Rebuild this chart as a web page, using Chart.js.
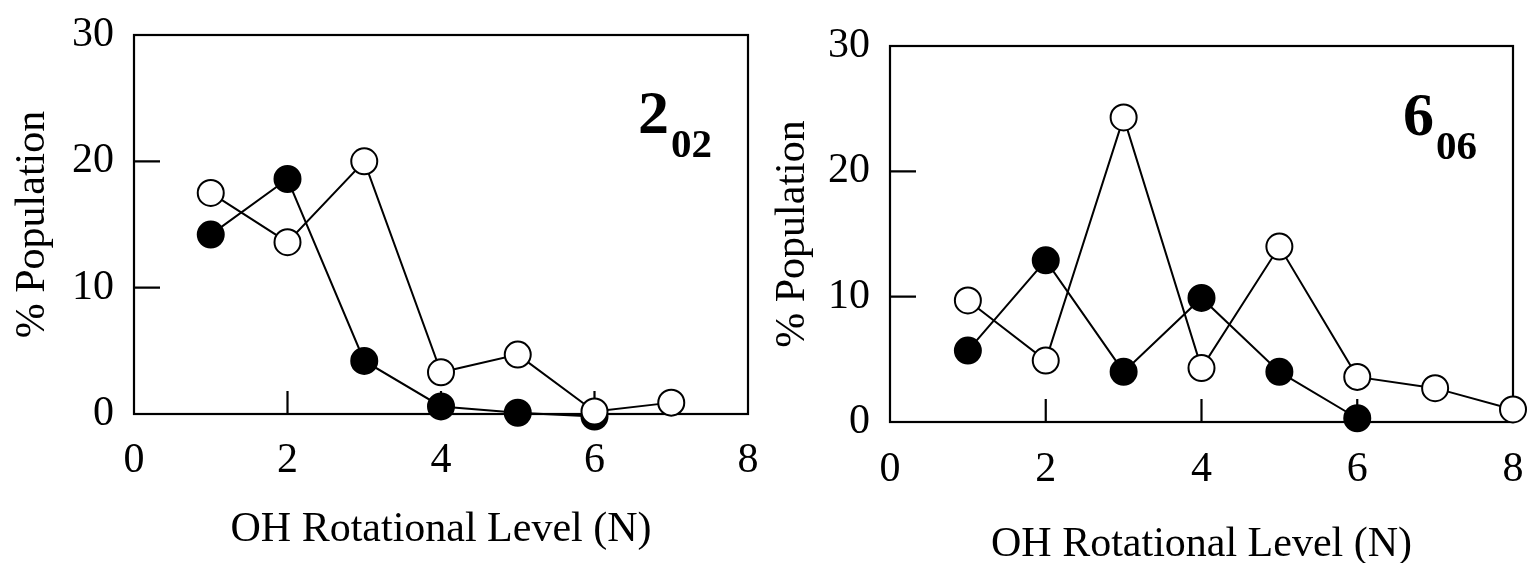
<!DOCTYPE html>
<html>
<head>
<meta charset="utf-8">
<script src="https://cdn.jsdelivr.net/npm/chart.js@4.4.1/dist/chart.umd.min.js"></script>
<style>
  body { margin: 0; background: #fff; }
  #wrap { position: relative; width: 1529px; height: 563px; }
  .panel { position: absolute; top: 0; height: 563px; }
</style>
</head>
<body>
<div id="wrap">
  <div class="panel" style="left:0;width:764px"><canvas id="left" width="764" height="563"></canvas></div>
  <div class="panel" style="left:764px;width:765px"><canvas id="right" width="765" height="563"></canvas></div>
</div>
<script>
// OH rotational level populations, 2_02 panel
const levels202 = [1, 2, 3, 4, 5, 6, 7];
const filled202 = [14.2, 18.6, 4.2, 0.6, 0.1, -0.2];
const open202 = [17.5, 13.6, 20.0, 3.3, 4.7, 0.2, 0.9];

// 6_06 panel
const levels606 = [1, 2, 3, 4, 5, 6, 7, 8];
const filled606 = [5.7, 12.9, 4.0, 9.9, 4.0, 0.3];
const open606 = [9.7, 4.9, 24.3, 4.3, 14.0, 3.6, 2.7, 1.0];

const xTicks = [0, 2, 4, 6, 8];
const yTicks = [0, 10, 20, 30];
const innerXTicks = [2, 4, 6];
const innerYTicks = [10, 20];

const SERIF = "'Liberation Serif', 'Times New Roman', serif";

function toPoints(levels, values) {
    return values.map((v, i) => ({ x: levels[i], y: v }));
}

// frame + inward tick marks, drawn under the markers
const frame = {
    id: 'frame',
    beforeDatasetsDraw(chart) {
        const { ctx, chartArea: a, scales } = chart;
        ctx.save();
        ctx.strokeStyle = '#000';
        ctx.lineWidth = 2.2;
        ctx.strokeRect(a.left, a.top, a.right - a.left, a.bottom - a.top);
        ctx.beginPath();
        innerYTicks.forEach(v => {
            const y = scales.y.getPixelForValue(v);
            ctx.moveTo(a.left, y);
            ctx.lineTo(a.left + 26, y);
        });
        innerXTicks.forEach(v => {
            const x = scales.x.getPixelForValue(v);
            ctx.moveTo(x, a.bottom);
            ctx.lineTo(x, a.bottom - 23);
        });
        ctx.stroke();
        ctx.restore();
    },
    afterDraw(chart) {
        const lab = chart.options.plugins.frame;
        const { ctx, chartArea: a } = chart;
        ctx.save();
        ctx.fillStyle = '#000';
        ctx.textBaseline = 'alphabetic';
        ctx.font = 'bold 62px ' + SERIF;
        const x = a.right - lab.dx;
        ctx.fillText(lab.main, x, lab.y);
        const w = ctx.measureText(lab.main).width;
        ctx.font = 'bold 41px ' + SERIF;
        ctx.fillText(lab.sub, x + w + 2, lab.y + 24);
        ctx.restore();
    }
};

function makeChart(id, p) {
    const ctx = document.getElementById(id).getContext('2d');
    return new Chart(ctx, {
        type: 'scatter',
        data: {
            datasets: [
                {
                    data: toPoints(p.levels, p.open),
                    showLine: true,
                    borderColor: '#000',
                    borderWidth: 2,
                    pointRadius: 13,
                    pointBorderWidth: 2,
                    pointBorderColor: '#000',
                    pointBackgroundColor: '#fff',
                    clip: false
                },
                {
                    data: toPoints(p.levels, p.filled),
                    showLine: true,
                    borderColor: '#000',
                    borderWidth: 2,
                    pointRadius: 13,
                    pointBorderWidth: 2,
                    pointBorderColor: '#000',
                    pointBackgroundColor: '#000',
                    clip: false
                }
            ]
        },
        options: {
            responsive: false,
            animation: false,
            events: [],
            layout: { padding: { top: p.top, right: 16, left: 0, bottom: 0 } },
            plugins: {
                legend: { display: false },
                tooltip: { enabled: false },
                frame: { main: p.main, sub: p.sub, dx: 110, y: p.labelY }
            },
            scales: {
                x: {
                    type: 'linear',
                    min: 0,
                    max: 8,
                    afterBuildTicks: s => { s.ticks = xTicks.map(v => ({ value: v })); },
                    afterFit: s => {
                        s.height = 563 - p.bottom;
                        s.paddingLeft = 0;
                        s.paddingRight = 0;
                    },
                    grid: { display: false, drawTicks: false },
                    border: { display: false },
                    ticks: {
                        color: '#000',
                        padding: p.xPad,
                        maxRotation: 0,
                        font: { family: SERIF, size: 42 }
                    },
                    title: {
                        display: true,
                        text: 'OH Rotational Level (N)',
                        color: '#000',
                        font: { family: SERIF, size: 42, lineHeight: p.titleLH },
                        padding: { top: 0, bottom: p.titlePad }
                    }
                },
                y: {
                    min: 0,
                    max: 30,
                    afterBuildTicks: s => { s.ticks = yTicks.map(v => ({ value: v })); },
                    afterFit: s => {
                        s.width = p.axisLeft;
                        s.paddingTop = 0;
                        s.paddingBottom = 0;
                    },
                    grid: { display: false, drawTicks: false },
                    border: { display: false },
                    ticks: {
                        color: '#000',
                        padding: 20,
                        font: { family: SERIF, size: 42 }
                    },
                    title: {
                        display: true,
                        text: '% Population',
                        color: '#000',
                        font: { family: SERIF, size: 42, lineHeight: 1 },
                        padding: { top: p.yTitlePad, bottom: 0 }
                    }
                }
            }
        },
        plugins: [frame]
    });
}

makeChart('left', {
    levels: levels202, open: open202, filled: filled202,
    main: '2', sub: '02', labelY: 133,
    top: 35, bottom: 414, axisLeft: 134,
    xPad: 22, titlePad: 12, titleLH: 1, yTitlePad: 12
});

makeChart('right', {
    levels: levels606, open: open606, filled: filled606,
    main: '6', sub: '06', labelY: 135,
    top: 46, bottom: 422, axisLeft: 126,
    xPad: 23, titlePad: 0, titleLH: 0.85, yTitlePad: 8
});
</script>
</body>
</html>
